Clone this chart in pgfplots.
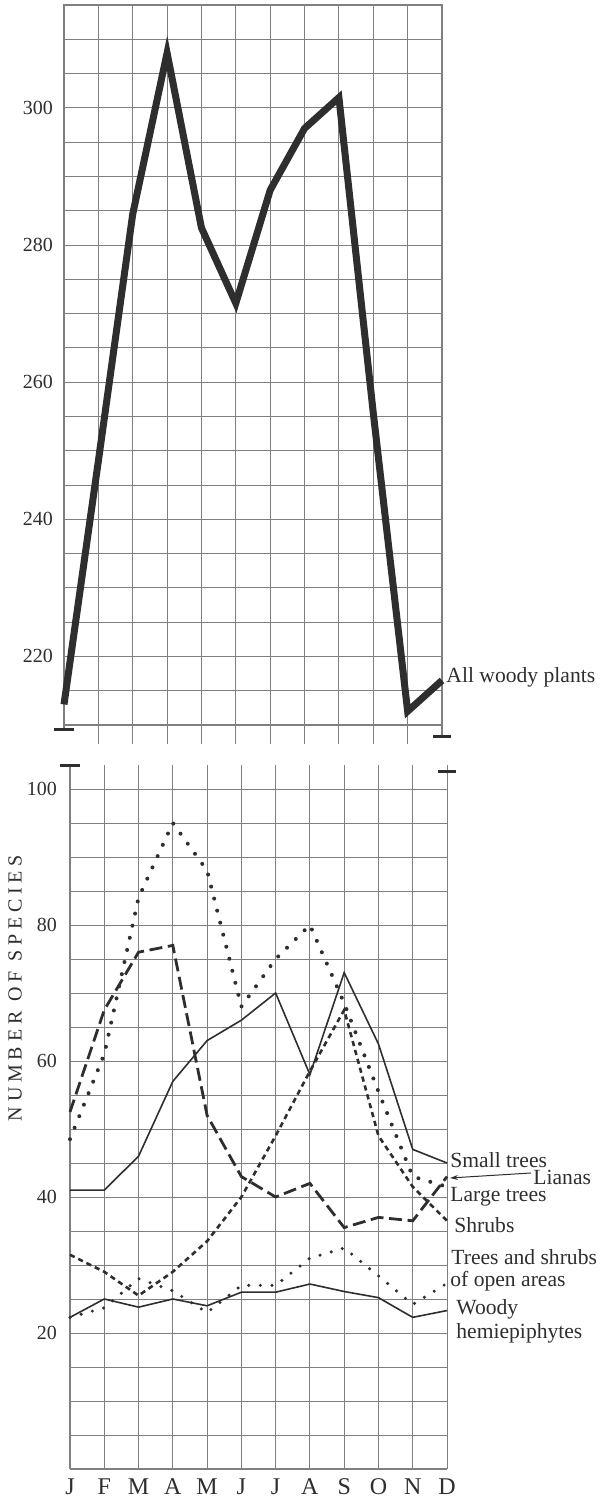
\documentclass[border=0pt]{standalone}
\usepackage{fontspec}
\setmainfont{Liberation Serif}
\newfontfamily\spacedfont[LetterSpace=24]{Liberation Serif}
\usepackage{pgfplots}
\pgfplotsset{compat=1.18}
\usetikzlibrary{arrows.meta}
\definecolor{ink}{HTML}{2E2E2E}
\definecolor{gridc}{HTML}{808080}

\pgfplotstableread{
m  all
0  213
1  248.5
2  284.5
3  308
4  282.5
5  271.5
6  288
7  297
8  301.5
9  255.5
10 212
11 216.5
}\toptable

\pgfplotstableread{
m  small  lianas large shrubs open  hemi
0  41     52.5   48.5  31.5   22.3  22.3
1  41     67.5   61    29     23.7  25
2  46     76     84    25.5   28    23.8
3  57     77     95    29     26.2  25
4  63     52     88    33.5   23    24
5  66     43     68    40     27    26
6  70     40     75    49     27    26
7  58     42     80    58.5   31    27.2
8  73     35.5   68.5  67.5   32.5  26.1
9  62.5   37     55.5  49     28.4  25.2
10 47     36.5   43    41.5   24.2  22.3
11 45     43     41.5  36.5   27.3  23.3
}\bottable

\pgfplotsset{
  myaxis/.style={
    scale only axis,
    xmin=0, xmax=11,
    xtick={0,...,11},
    grid=both,
    major grid style={gridc, line width=0.45pt},
    minor grid style={gridc, line width=0.45pt},
    major tick length=0pt,
    minor tick length=0pt,
    clip=false,
    yticklabel style={font=\fontsize{10}{12}\selectfont, text=ink},
    /pgf/number format/assume math mode=true,
  }
}

\begin{document}
\begin{tikzpicture}
\path[use as bounding box] (0,0) rectangle (301.5pt,751.5pt);

% ---------- top panel ----------
\begin{axis}[myaxis,
  at={(32pt,389pt)}, anchor=south west,
  width=189pt, height=360pt,
  ymin=210, ymax=315,
  ytick={220,240,...,300},
  minor ytick={210,215,...,315},
  xticklabels={},
  yticklabel style={xshift=-2pt},
  axis line style={gridc, line width=0.55pt},
]
\addplot[ink, line width=3.5pt, line join=miter, miter limit=10] table[x=m, y=all] {\toptable};
\pgfplotsinvokeforeach{1,...,10}{
  \draw[gridc, line width=0.45pt] (axis cs:#1,210) -- (axis cs:#1,207.3);
}
\draw[gridc, line width=0.55pt] (axis cs:0,210) -- (axis cs:0,209.4);
\draw[gridc, line width=0.55pt] (axis cs:11,210) -- (axis cs:11,208.25);
\draw[ink, line width=1.5pt] ([xshift=-5pt]axis cs:0,209.4) -- ([xshift=5pt]axis cs:0,209.4);
\draw[ink, line width=1.5pt] ([xshift=-4.5pt]axis cs:11,208.25) -- ([xshift=4.5pt]axis cs:11,208.25);
\end{axis}

% ---------- bottom panel ----------
\begin{axis}[myaxis,
  at={(35pt,17pt)}, anchor=south west,
  width=188.5pt, height=351.9pt,
  ymin=0, ymax=103.5,
  ytick={20,40,...,100},
  minor ytick={0,5,...,100},
  axis lines=left,
  axis line style={-, gridc, line width=0.55pt},
  xticklabels={J,F,M,A,M,J,J,A,S,O,N,D},
  xticklabel style={font=\fontsize{12}{14}\selectfont, text=ink, yshift=-1.5pt},
  yticklabel style={xshift=-3pt},
]
\addplot[ink, line width=0.8pt] table[x=m, y=small] {\bottable};
\addplot[ink, line width=1.4pt, dash pattern=on 6.5pt off 2.8pt] table[x=m, y=lianas] {\bottable};
\addplot[ink, line width=2pt, line cap=round, dash pattern=on 0pt off 6.2pt] table[x=m, y=large] {\bottable};
\addplot[ink, line width=1.3pt, dash pattern=on 2.6pt off 2pt] table[x=m, y=shrubs] {\bottable};
\addplot[ink, line width=1.7pt, line cap=round, dash pattern=on 0pt off 5.8pt] table[x=m, y=open] {\bottable};
\addplot[ink, line width=0.8pt] table[x=m, y=hemi] {\bottable};
\draw[ink, line width=1.5pt] ([xshift=-5pt]axis cs:0,103.5) -- ([xshift=5pt]axis cs:0,103.5);
\draw[ink, line width=1.5pt] ([xshift=-4.5pt]axis cs:11,102.6) -- ([xshift=4.5pt]axis cs:11,102.6);
\end{axis}

% ---------- labels ----------
\begin{scope}[every node/.style={text=ink, inner sep=0pt, anchor=west, font=\fontsize{10.8}{13}\selectfont}]
\node at (223pt,413pt) {All woody plants};
\node at (225pt,171.5pt) {Small trees};
\node at (266.5pt,163pt) {Lianas};
\node at (225pt,153pt) {Large trees};
\node at (227pt,139pt) {Shrubs};
\node at (225.5pt,123pt) {Trees and shrubs};
\node at (225pt,111pt) {of open areas};
\node at (228pt,97pt) {Woody};
\node at (228pt,85pt) {hemiepiphytes};
\end{scope}
\draw[ink, line width=0.5pt, -{Stealth[length=4pt,width=2.5pt]}] (265.5pt,165pt) -- (225pt,162.5pt);

\node[rotate=90, text=ink, inner sep=0pt, font=\spacedfont\fontsize{10}{12}\selectfont] at (7.5pt,257.5pt) {NUMBER OF SPECIES};
\end{tikzpicture}
\end{document}
